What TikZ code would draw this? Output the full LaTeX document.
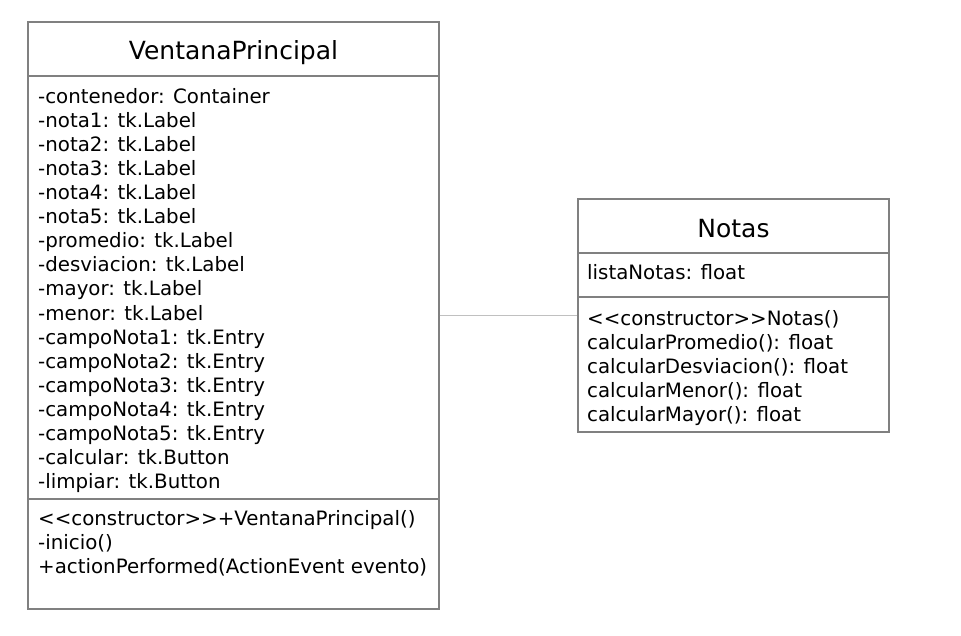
\documentclass[tikz,border=0pt]{standalone}
\usepackage{fontspec}
\setmainfont{DejaVu Sans}
\begin{document}
\begin{tikzpicture}[x=1pt,y=-1pt,
  box/.style={draw=boxgray, line width=1.4pt, rectangle, inner sep=0pt},
  divider/.style={draw=boxgray, line width=1.4pt},
  conn/.style={draw=conngray, line width=1.3pt},
  title/.style={font=\fontsize{25}{30}\selectfont, inner sep=0pt, anchor=base, text=black},
  item/.style={font=\fontsize{19.8}{24}\selectfont, inner sep=0pt, anchor=base west, text=black}]
\definecolor{boxgray}{HTML}{808080}
\definecolor{conngray}{HTML}{C0C0C0}
\useasboundingbox (0,0) rectangle (961,636);
% boxes
\node[box, minimum width=411pt, minimum height=587pt] (vp) at (233.5,315.5) {};
\node[box, minimum width=311pt, minimum height=233pt] (no) at (733.5,315.5) {};
% dividers
\coordinate (vpd1) at (28,76);
\coordinate (vpd2) at (28,499);
\draw[divider] (vpd1) -- (vpd1 -| vp.east);
\draw[divider] (vpd2) -- (vpd2 -| vp.east);
\coordinate (nod1) at (578,253);
\coordinate (nod2) at (578,297);
\draw[divider] (nod1) -- (nod1 -| no.east);
\draw[divider] (nod2) -- (nod2 -| no.east);
% connector
\draw[conn] (vp.east) -- (no.west);
% titles
\node[title] (vpt) at (233.5,59.5) {VentanaPrincipal};
\node[title] (not) at (733.5,237.5) {Notas};
% attributes VentanaPrincipal
\foreach \t [count=\i] in {-contenedor: Container,-nota1: tk.Label,-nota2: tk.Label,-nota3: tk.Label,-nota4: tk.Label,-nota5: tk.Label,-promedio: tk.Label,-desviacion: tk.Label,-mayor: tk.Label,-menor: tk.Label,-campoNota1: tk.Entry,-campoNota2: tk.Entry,-campoNota3: tk.Entry,-campoNota4: tk.Entry,-campoNota5: tk.Entry,-calcular: tk.Button,-limpiar: tk.Button}
  \node[item] (vpa\i) at (38,{104+24*(\i-1)}) {\t};
\foreach \t [count=\i] in {{<}{<}constructor{>}{>}+VentanaPrincipal(),-inicio(),+actionPerformed(ActionEvent evento)}
  \node[item] (vpm\i) at (38,{525+24*(\i-1)}) {\t};
% Notas
\node[item] (noa1) at (587,280) {listaNotas: float};
\foreach \t [count=\i] in {{<}{<}constructor{>}{>}Notas(),calcularPromedio(): float,calcularDesviacion(): float,calcularMenor(): float,calcularMayor(): float}
  \node[item] (nom\i) at (587,{325+24*(\i-1)}) {\t};
\end{tikzpicture}
\end{document}
